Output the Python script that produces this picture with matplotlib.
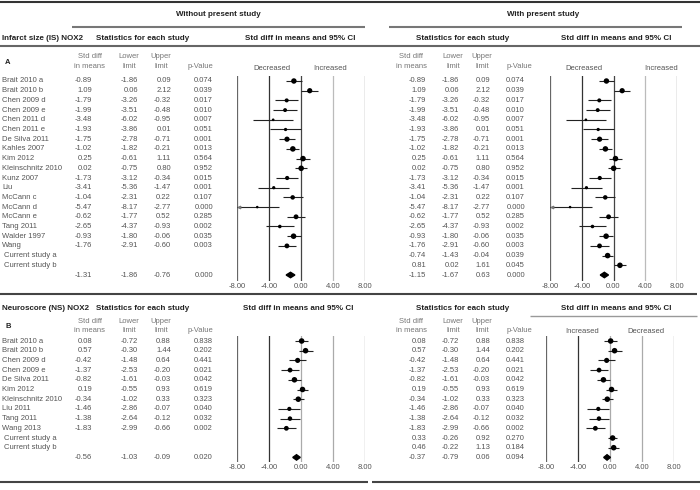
#!/usr/bin/env python3
"""NOX2 meta-analysis forest plots - infarct size and neuroscore"""

import numpy as np
import matplotlib
matplotlib.use('Agg')
import matplotlib.pyplot as plt

plt.rcParams['font.family'] = ['Liberation Sans', 'DejaVu Sans']

# ---- panel A: infarct size ----
names_a = ['Brait 2010 a', 'Brait 2010 b', 'Chen 2009 d', 'Chen 2009 e', 'Chen 2011 d',
           'Chen 2011 e', 'De Silva 2011', 'Kahles 2007', 'Kim 2012', 'Kleinschnitz 2010',
           'Kunz 2007', 'Liu', 'McCann c', 'McCann d', 'McCann e', 'Tang 2011',
           'Walder 1997', 'Wang']
smd_a = [-0.89, 1.09, -1.79, -1.99, -3.48, -1.93, -1.75, -1.02, 0.25, 0.02,
         -1.73, -3.41, -1.04, -5.47, -0.62, -2.65, -0.93, -1.76]
lo_a = [-1.86, 0.06, -3.26, -3.51, -6.02, -3.86, -2.78, -1.82, -0.61, -0.75,
        -3.12, -5.36, -2.31, -8.17, -1.77, -4.37, -1.80, -2.91]
hi_a = [0.09, 2.12, -0.32, -0.48, -0.95, 0.01, -0.71, -0.21, 1.11, 0.80,
        -0.34, -1.47, 0.22, -2.77, 0.52, -0.93, -0.06, -0.60]
p_a = ['0.074', '0.039', '0.017', '0.010', '0.007', '0.051', '0.001', '0.013', '0.564',
       '0.952', '0.015', '0.001', '0.107', '0.000', '0.285', '0.002', '0.035', '0.003']
cur_smd_a = [-0.74, 0.81]
cur_lo_a = [-1.43, 0.02]
cur_hi_a = [-0.04, 1.61]
cur_p_a = ['0.039', '0.045']
sum_without_a = (-1.31, -1.86, -0.76, '0.000')
sum_with_a = (-1.15, -1.67, -0.63, '0.000')
sum_with_a_text = ['-1.15', '-1.67', '0.63', '0.000']   # as printed in the source

# ---- panel B: neuroscore ----
names_b = ['Brait 2010 a', 'Brait 2010 b', 'Chen 2009 d', 'Chen 2009 e', 'De Silva 2011',
           'Kim 2012', 'Kleinschnitz 2010', 'Liu 2011', 'Tang 2011', 'Wang 2013']
smd_b = [0.08, 0.57, -0.42, -1.37, -0.82, 0.19, -0.34, -1.46, -1.38, -1.83]
lo_b = [-0.72, -0.30, -1.48, -2.53, -1.61, -0.55, -1.02, -2.86, -2.64, -2.99]
hi_b = [0.88, 1.44, 0.64, -0.20, -0.03, 0.93, 0.33, -0.07, -0.12, -0.66]
p_b = ['0.838', '0.202', '0.441', '0.021', '0.042', '0.619', '0.323', '0.040', '0.032', '0.002']
cur_smd_b = [0.33, 0.46]
cur_lo_b = [-0.26, -0.22]
cur_hi_b = [0.92, 1.13]
cur_p_b = ['0.270', '0.184']
sum_without_b = (-0.56, -1.03, -0.09, '0.020')
sum_with_b = (-0.37, -0.79, 0.06, '0.094')
sum_with_b_text = ['-0.37', '-0.79', '0.06', '0.094']

current_names = ['Current study a', 'Current study b']
ticks = [-8, -4, 0, 4, 8]

W, H = 700, 490
DY = 9.7
TXT = '#555555'
HEAD = '#222222'
FS = 5.5
FS_BOLD = 5.8

fig = plt.figure(figsize=(7, 4.9), dpi=100)
fig.patch.set_facecolor('white')
bg = fig.add_axes([0, 0, 1, 1])
bg.set_xlim(0, W)
bg.set_ylim(H, 0)
bg.axis('off')


def hline(y, x0, x1, color='#444444', lw=1.3):
    bg.plot([x0, x1], [y, y], color=color, lw=lw, solid_capstyle='butt')


def fmt(v):
    return f'{v:.2f}'


def table_row(y, vals, xs):
    for v, x in zip(vals, xs):
        bg.text(x, y, v, ha='right', va='center', fontsize=FS, color=TXT)


def col_heads(y1, y2, centers):
    heads = [('Std diff', 'in means'), ('Lower', 'limit'), ('Upper', 'limit')]
    for (a, b), x in zip(heads, centers[:3]):
        bg.text(x, y1, a, ha='center', va='center', fontsize=FS, color='#777777')
        bg.text(x, y2, b, ha='center', va='center', fontsize=FS, color='#777777')
    bg.text(centers[3], y2, 'p-Value', ha='center', va='center', fontsize=FS, color='#777777')


def forest(x0, x1, y_top, y_bot, row0, smd, lo, hi, summ, n_rows, line_cols):
    ax = fig.add_axes([x0 / W, 1 - y_bot / H, (x1 - x0) / W, (y_bot - y_top) / H])
    ax.set_xlim(-8, 8)
    ax.set_ylim((y_bot - row0) / DY, (y_top - row0) / DY)
    ax.patch.set_alpha(0)
    for s in ax.spines.values():
        s.set_visible(False)
    for t, c in zip(ticks, line_cols):
        ax.axvline(t, color=c, lw=0.9, zorder=1)
    smd, lo, hi = np.array(smd), np.array(lo), np.array(hi)
    rows = np.arange(len(smd))
    ax.hlines(rows, np.maximum(lo, -8), np.minimum(hi, 8), color='#222222', lw=0.8, zorder=2)
    # marker diameter shrinks with CI width (study weight), capped
    diam = np.minimum(6.5 / (hi - lo) ** 0.75, 4.0)
    ax.scatter(smd, rows, s=diam ** 2, color='black', zorder=3, linewidths=0)
    for r in rows[lo < -8]:
        ax.plot(-7.8, r, marker='<', ms=1.8, color='#777777', clip_on=False, zorder=3)
    m, l, h = summ[0], summ[1], summ[2]
    r = n_rows - 1
    ax.fill([l, m, h, m], [r, r - 0.28, r, r + 0.28], color='black', zorder=3)
    ax.set_xticks(ticks)
    ax.set_xticklabels([f'{t:.2f}' for t in ticks], fontsize=FS, color=TXT)
    ax.tick_params(axis='x', length=0, pad=1.5)
    ax.set_yticks([])
    return ax


# ---------- top header ----------
hline(2, 0, 700, '#333333', 1.5)
bg.text(218, 15, 'Without present study', ha='center', va='center', fontsize=FS_BOLD,
        fontweight='bold', color=HEAD)
bg.text(543, 15, 'With present study', ha='center', va='center', fontsize=FS_BOLD,
        fontweight='bold', color=HEAD)
hline(27, 72, 365, '#777777', 1.5)
hline(27, 389, 682, '#777777', 1.5)

L_COLS = [92, 138, 171, 213]
L_HEAD = [90, 129, 161, 200]
R_COLS = [426, 459, 490, 525]
R_HEAD = [411, 453, 482, 519]

# ---------- panel A ----------
A_ROW0 = 81
bg.text(2, 39, 'Infarct size (IS) NOX2', ha='left', va='center', fontsize=FS_BOLD,
        fontweight='bold', color=HEAD)
for xc, lab in [(143, 'Statistics for each study'), (300, 'Std diff in means and 95% CI'),
                (463, 'Statistics for each study'), (616, 'Std diff in means and 95% CI')]:
    bg.text(xc, 39, lab, ha='center', va='center', fontsize=FS_BOLD, fontweight='bold',
            color=HEAD)
hline(46, 0, 700, '#666666', 1.5)
bg.text(5, 62, 'A', ha='left', va='center', fontsize=FS, fontweight='bold', color=HEAD)
col_heads(57, 67, L_HEAD)
col_heads(57, 67, R_HEAD)
for x, lab in [(272, 'Decreased'), (330, 'Increased'), (584, 'Decreased'), (661, 'Increased')]:
    bg.text(x, 69, lab, ha='center', va='center', fontsize=FS, color=TXT)

n_a = len(names_a)
for i, nm in enumerate(names_a):
    y = A_ROW0 + i * DY
    bg.text(2, y, nm, ha='left', va='center', fontsize=FS, color=TXT)
    vals = [fmt(smd_a[i]), fmt(lo_a[i]), fmt(hi_a[i]), p_a[i]]
    table_row(y, vals, L_COLS)
    table_row(y, vals, R_COLS)
for j, nm in enumerate(current_names):
    y = A_ROW0 + (n_a + j) * DY
    bg.text(4, y, nm, ha='left', va='center', fontsize=FS, color=TXT)
    table_row(y, [fmt(cur_smd_a[j]), fmt(cur_lo_a[j]), fmt(cur_hi_a[j]), cur_p_a[j]], R_COLS)
y_sum = A_ROW0 + (n_a + 2) * DY
table_row(y_sum, [fmt(sum_without_a[0]), fmt(sum_without_a[1]), fmt(sum_without_a[2]),
                  sum_without_a[3]], L_COLS)
table_row(y_sum, sum_with_a_text, R_COLS)

cols_a = ['#666666', '#333333', '#444444', '#bbbbbb', '#666666']
forest(237, 365, 76, 281, A_ROW0, smd_a, lo_a, hi_a, sum_without_a, n_a + 3, cols_a)
forest(550, 677, 76, 281, A_ROW0, smd_a + cur_smd_a, lo_a + cur_lo_a, hi_a + cur_hi_a,
       sum_with_a, n_a + 3, cols_a)

hline(294, 0, 697, '#444444', 1.5)

# ---------- panel B ----------
B_ROW0 = 341
bg.text(2, 308, 'Neuroscore (NS) NOX2', ha='left', va='center', fontsize=FS_BOLD,
        fontweight='bold', color=HEAD)
for xc, lab in [(143, 'Statistics for each study'), (298, 'Std diff in means and 95% CI'),
                (463, 'Statistics for each study'), (616, 'Std diff in means and 95% CI')]:
    bg.text(xc, 308, lab, ha='center', va='center', fontsize=FS_BOLD, fontweight='bold',
            color=HEAD)
hline(316, 530, 697, '#999999', 1.0)
bg.text(5, 326, 'B', ha='left', va='center', fontsize=FS, fontweight='bold', color=HEAD)
col_heads(321, 330, L_HEAD)
col_heads(321, 330, R_HEAD)
for x, lab in [(582, 'Increased'), (646, 'Decreased')]:
    bg.text(x, 331, lab, ha='center', va='center', fontsize=FS, color=TXT)

n_b = len(names_b)
for i, nm in enumerate(names_b):
    y = B_ROW0 + i * DY
    bg.text(2, y, nm, ha='left', va='center', fontsize=FS, color=TXT)
    vals = [fmt(smd_b[i]), fmt(lo_b[i]), fmt(hi_b[i]), p_b[i]]
    table_row(y, vals, L_COLS)
    table_row(y, vals, R_COLS)
for j, nm in enumerate(current_names):
    y = B_ROW0 + (n_b + j) * DY
    bg.text(4, y, nm, ha='left', va='center', fontsize=FS, color=TXT)
    table_row(y, [fmt(cur_smd_b[j]), fmt(cur_lo_b[j]), fmt(cur_hi_b[j]), cur_p_b[j]], R_COLS)
y_sum = B_ROW0 + (n_b + 2) * DY
table_row(y_sum, [fmt(sum_without_b[0]), fmt(sum_without_b[1]), fmt(sum_without_b[2]),
                  sum_without_b[3]], L_COLS)
table_row(y_sum, sum_with_b_text, R_COLS)

cols_b = ['#666666', '#333333', '#aaaaaa', '#aaaaaa', '#888888']
forest(237, 365, 336, 462, B_ROW0, smd_b, lo_b, hi_b, sum_without_b, n_b + 3, cols_b)
forest(546, 674, 336, 462, B_ROW0, smd_b + cur_smd_b, lo_b + cur_lo_b, hi_b + cur_hi_b,
       sum_with_b, n_b + 3, cols_b)

hline(482, 0, 368, '#444444', 1.5)
hline(482, 372, 700, '#444444', 1.5)

plt.savefig('out.png', dpi=100, facecolor='white')
plt.close()
